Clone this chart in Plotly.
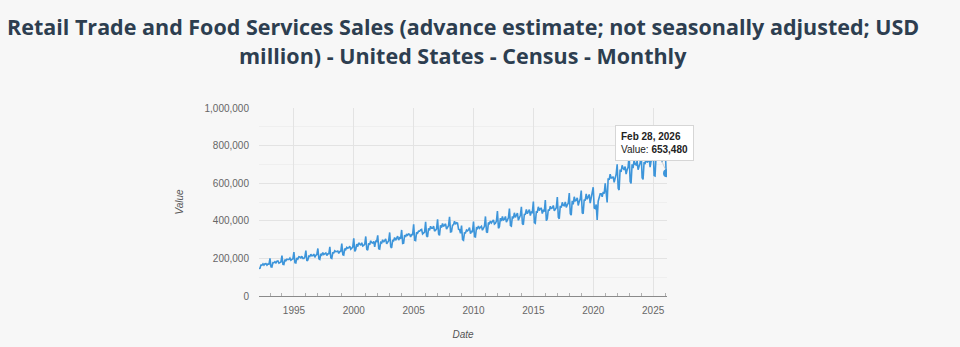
import pandas as pd
import plotly.graph_objects as go

# Monthly retail trade & food services sales, not seasonally adjusted (USD billion)
sales_1992 = [146.4, 147.4, 164.3, 164.1, 170.9, 163.8, 171.0, 172.0, 164.0, 170.2, 168.8, 200.5]
sales_1993 = [154.7, 153.6, 177.7, 176.8, 182.2, 176.2, 184.6, 186.0, 174.4, 180.6, 180.9, 214.6]
sales_1994 = [168.1, 166.9, 193.2, 187.8, 195.6, 194.1, 194.4, 201.7, 190.1, 194.8, 197.1, 233.9]
sales_1995 = [177.2, 175.8, 202.6, 196.7, 208.5, 207.3, 202.4, 211.6, 199.5, 199.9, 207.3, 241.6]
sales_1996 = [186.0, 190.6, 212.6, 210.6, 222.2, 213.5, 215.5, 222.8, 205.8, 216.7, 220.9, 252.8]
sales_1997 = [197.6, 194.2, 224.0, 218.1, 230.5, 221.0, 225.1, 229.2, 215.6, 224.0, 224.3, 262.0]
sales_1998 = [202.7, 199.5, 229.8, 229.3, 240.4, 236.0, 236.7, 239.1, 226.2, 236.9, 237.0, 279.3]
sales_1999 = [219.6, 217.2, 251.8, 246.5, 259.0, 253.7, 257.0, 264.3, 248.6, 254.0, 260.0, 306.9]
sales_2000 = [236.8, 246.6, 276.5, 262.8, 282.4, 276.7, 269.8, 283.4, 265.8, 269.6, 275.3, 316.7]
sales_2001 = [248.5, 244.1, 280.2, 272.5, 293.6, 284.4, 281.6, 290.4, 261.9, 291.4, 290.0, 322.6]
sales_2002 = [251.0, 249.0, 285.1, 282.1, 299.1, 286.3, 294.1, 303.4, 277.1, 289.3, 294.1, 337.9]
sales_2003 = [262.1, 255.3, 295.2, 293.6, 310.7, 296.1, 311.6, 318.4, 297.5, 309.5, 304.8, 351.4]
sales_2004 = [279.6, 281.6, 324.1, 314.0, 329.7, 323.3, 330.1, 327.8, 314.6, 326.4, 326.4, 381.1]
sales_2005 = [296.4, 294.6, 339.1, 334.3, 345.1, 344.7, 351.1, 353.9, 330.0, 334.3, 339.5, 394.5]
sales_2006 = [319.5, 313.8, 360.2, 349.1, 370.8, 360.2, 360.2, 371.3, 345.0, 350.5, 357.0, 408.0]
sales_2007 = [329.4, 322.5, 375.7, 364.1, 386.0, 370.3, 375.4, 383.9, 355.4, 366.6, 374.0, 420.8]
sales_2008 = [341.0, 342.5, 376.4, 378.8, 398.3, 380.9, 390.2, 387.9, 355.5, 352.8, 333.5, 374.2]
sales_2009 = [299.6, 296.1, 335.6, 335.3, 350.3, 346.4, 351.8, 363.4, 332.2, 343.8, 342.5, 395.4]
sales_2010 = [315.8, 313.9, 362.5, 359.2, 372.6, 360.3, 368.6, 370.6, 350.0, 361.1, 370.8, 423.2]
sales_2011 = [341.0, 337.3, 390.4, 385.2, 398.6, 389.0, 394.9, 405.0, 382.6, 387.1, 398.3, 451.6]
sales_2012 = [360.6, 368.7, 414.2, 398.5, 423.7, 404.5, 408.6, 423.2, 393.4, 405.8, 415.5, 464.6]
sales_2013 = [374.4, 371.2, 423.6, 413.2, 442.6, 418.0, 431.8, 440.5, 402.7, 421.8, 429.8, 474.8]
sales_2014 = [384.2, 379.3, 433.5, 434.7, 461.0, 437.5, 449.5, 459.1, 428.1, 446.2, 443.9, 502.1]
sales_2015 = [390.6, 387.2, 447.2, 446.6, 474.6, 454.1, 465.3, 465.8, 438.9, 454.7, 449.6, 510.0]
sales_2016 = [400.8, 410.3, 459.8, 454.3, 477.5, 465.6, 468.3, 481.3, 452.9, 463.4, 470.1, 526.0]
sales_2017 = [418.6, 410.6, 479.3, 470.1, 498.1, 482.3, 480.1, 500.2, 471.6, 484.2, 493.9, 547.5]
sales_2018 = [437.3, 430.0, 506.9, 487.7, 527.6, 506.1, 508.6, 522.5, 481.6, 502.2, 515.6, 560.5]
sales_2019 = [442.1, 437.6, 513.2, 507.3, 542.8, 514.6, 528.0, 540.1, 494.1, 522.1, 530.2, 578.9]
sales_2020 = [468.0, 465.3, 486.6, 404.3, 504.2, 528.7, 543.3, 543.8, 527.6, 553.6, 544.4, 598.7]
sales_2021 = [512.8, 497.8, 626.0, 617.3, 648.3, 627.9, 629.4, 634.5, 604.8, 632.2, 648.5, 700.1]
sales_2022 = [572.4, 563.5, 672.2, 660.3, 694.8, 680.1, 671.8, 688.2, 648.6, 671.4, 684.8, 752.2]
sales_2023 = [608.3, 599.1, 700.6, 680.2, 722.5, 700.8, 697.1, 718.4, 671.6, 690.4, 706.3, 770.5]
sales_2024 = [628.5, 620.2, 712.0, 701.4, 741.3, 710.5, 717.2, 733.3, 685.4, 717.7, 722.6, 795.0]
sales_2025 = [640.6, 638.1, 740.2, 730.4, 765.1, 735.3, 747.4, 760.8, 712.0, 738.9, 742.3, 810.4]
sales_2026 = [664.8, 653.48]

yearly = [sales_1992, sales_1993, sales_1994, sales_1995, sales_1996, sales_1997, sales_1998,
          sales_1999, sales_2000, sales_2001, sales_2002, sales_2003, sales_2004, sales_2005,
          sales_2006, sales_2007, sales_2008, sales_2009, sales_2010, sales_2011, sales_2012,
          sales_2013, sales_2014, sales_2015, sales_2016, sales_2017, sales_2018, sales_2019,
          sales_2020, sales_2021, sales_2022, sales_2023, sales_2024, sales_2025, sales_2026]

# USD billion -> USD million
values = [round(v * 1000) for year in yearly for v in year]
dates = pd.date_range("1992-01-31", periods=len(values), freq="ME")

title_line1 = "Retail Trade and Food Services Sales (advance estimate; not seasonally adjusted; USD"
title_line2 = "million) - United States - Census - Monthly"

LINE = "#3d95da"
BG = "#f7f7f7"
TICK_FONT = dict(family="Liberation Sans, Arial, sans-serif", size=10, color="#666666")

fig = go.Figure()
fig.add_trace(go.Scatter(x=dates, y=values, mode="lines",
                         line=dict(color=LINE, width=1.6), name="Value",
                         hovertemplate="%{x|%b %d, %Y}<br>Value: <b>%{y:,}</b><extra></extra>"))
fig.add_trace(go.Scatter(x=[dates[-1]], y=[values[-1]], mode="markers",
                         marker=dict(color=LINE, size=8), showlegend=False, hoverinfo="skip"))

fig.update_layout(
    width=960, height=347,
    margin=dict(l=259, r=293, t=108, b=51),
    paper_bgcolor=BG, plot_bgcolor=BG,
    showlegend=False,
    font=dict(family="Liberation Sans, Arial, sans-serif"),
)

fig.update_xaxes(
    type="date", range=[dates[0], dates[-1]], automargin=False,
    tick0="1995-01-01", dtick="M60", tickformat="%Y",
    showgrid=True, gridcolor="#e3e3e3", gridwidth=1,
    showline=True, linecolor="#8a8a8a", linewidth=1,
    ticks="", tickfont=TICK_FONT, ticklabelstandoff=5,
    minor=dict(dtick="M12", tick0="1992-01-01", ticks="inside", ticklen=3,
               tickcolor="#b0b0b0", showgrid=False),
    title=dict(text="<i>Date</i>", font=dict(family="Liberation Sans, Arial, sans-serif",
                                             size=10, color="#555555"), standoff=15),
    zeroline=False,
)
fig.update_yaxes(
    range=[0, 1000000], dtick=200000, tickformat=",d", automargin=False,
    showgrid=True, gridcolor="#e3e3e3", gridwidth=1,
    minor=dict(dtick=100000, showgrid=True, gridcolor="#efefef"),
    showline=False, zeroline=False, ticks="",
    tickfont=TICK_FONT, ticklabelstandoff=9,
    title=dict(text="<i>Value</i>", font=dict(family="Liberation Sans, Arial, sans-serif",
                                              size=10, color="#555555"), standoff=19),
)

TITLE_FONT = dict(family="Open Sans, sans-serif", size=21.5, color="#2d3e50")
fig.add_annotation(text="<b>" + title_line1 + "</b>", xref="paper", yref="paper",
                   x=0.5, y=1.432, xanchor="center", yanchor="middle",
                   showarrow=False, font=TITLE_FONT)
fig.add_annotation(text="<b>" + title_line2 + "</b>", xref="paper", yref="paper",
                   x=0.5, y=1.281, xanchor="center", yanchor="middle",
                   showarrow=False, font=TITLE_FONT)

# Tooltip for the latest observation
tip = "<b>{}</b><br>Value: <b>{:,}</b>".format(dates[-1].strftime("%b %d, %Y"), values[-1])
fig.add_annotation(x=dates[-1], y=values[-1], xref="x", yref="y", text=tip,
                   showarrow=True, arrowhead=0, arrowwidth=1, arrowcolor="#cfcfcf",
                   ax=-13, ay=-30, standoff=5, align="left",
                   bgcolor="white", bordercolor="#d6d6d6", borderwidth=1, borderpad=5,
                   font=dict(family="Liberation Sans, Arial, sans-serif", size=10, color="#222222"))

fig.write_html("out.html")
